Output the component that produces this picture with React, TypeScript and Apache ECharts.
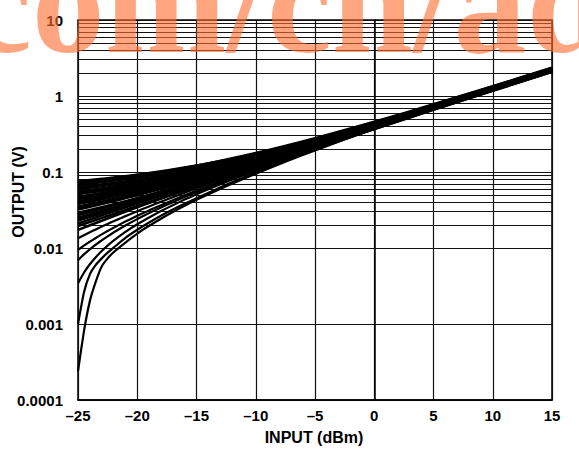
import React, { useEffect, useRef } from "react";
import * as echarts from "echarts";

// x positions (dBm)
const X_BAND = [-25, -20, -15, -10, -5, 0, 5, 10, 15];
const X_LOW = [-25, -24.5, -24, -23.5, -23, -22.5, -22, -21, -20, -19, -18, -17, -16, -15, -12.5, -10, -7.5, -5, -2.5, 0, 5, 10, 15];

// curves in the dense band (OUTPUT V at X_BAND)
const BAND_Y: number[][] = [
  [0.075, 0.0916, 0.1212, 0.1738, 0.2673, 0.4336, 0.7294, 1.2553, 2.1905],
  [0.071, 0.0889, 0.1208, 0.1776, 0.2785, 0.4579, 0.777, 1.3444, 2.3535],
  [0.067, 0.0845, 0.1156, 0.171, 0.2694, 0.4445, 0.7558, 1.3094, 2.2939],
  [0.063, 0.0792, 0.108, 0.1592, 0.2503, 0.4122, 0.7002, 1.2122, 2.1232],
  [0.061, 0.0781, 0.1085, 0.1624, 0.2584, 0.4291, 0.7326, 1.2724, 2.2322],
  [0.059, 0.0769, 0.1088, 0.1656, 0.2665, 0.4459, 0.765, 1.3324, 2.3415],
  [0.055, 0.0721, 0.1025, 0.1564, 0.2524, 0.4231, 0.7266, 1.2664, 2.2262],
  [0.053, 0.0692, 0.098, 0.1492, 0.2403, 0.4022, 0.6902, 1.2022, 2.1132],
  [0.051, 0.0676, 0.0972, 0.1498, 0.2433, 0.4096, 0.7054, 1.2313, 2.1665],
  [0.047, 0.0645, 0.0956, 0.151, 0.2494, 0.4245, 0.7358, 1.2894, 2.2739],
  [0.0455, 0.0621, 0.0917, 0.1443, 0.2378, 0.4041, 0.6999, 1.2258, 2.161],
  [0.044, 0.0602, 0.089, 0.1402, 0.2313, 0.3932, 0.6812, 1.1932, 2.1042],
  [0.041, 0.0589, 0.0908, 0.1476, 0.2485, 0.4279, 0.747, 1.3144, 2.3235],
  [0.0395, 0.057, 0.0881, 0.1435, 0.2419, 0.417, 0.7283, 1.2819, 2.2664],
  [0.038, 0.0551, 0.0855, 0.1394, 0.2354, 0.4061, 0.7096, 1.2494, 2.2092],
  [0.035, 0.0516, 0.0812, 0.1338, 0.2273, 0.3936, 0.6894, 1.2153, 2.1505],
  [0.0335, 0.0506, 0.081, 0.1349, 0.2309, 0.4016, 0.7051, 1.2449, 2.2047],
  [0.032, 0.0495, 0.0806, 0.136, 0.2344, 0.4095, 0.7208, 1.2744, 2.2589],
  [0.029, 0.0452, 0.074, 0.1252, 0.2163, 0.3782, 0.6662, 1.1782, 2.0892],
  [0.028, 0.0446, 0.0742, 0.1268, 0.2203, 0.3866, 0.6824, 1.2083, 2.1435],
  [0.027, 0.0449, 0.0768, 0.1336, 0.2345, 0.4139, 0.733, 1.3004, 2.3095],
  [0.025, 0.0421, 0.0725, 0.1264, 0.2224, 0.3931, 0.6966, 1.2364, 2.1962],
  [0.024, 0.0419, 0.0738, 0.1306, 0.2315, 0.4109, 0.73, 1.2974, 2.3065],
  [0.023, 0.0396, 0.0692, 0.1218, 0.2153, 0.3816, 0.6774, 1.2033, 2.1385],
  [0.021, 0.0385, 0.0696, 0.125, 0.2234, 0.3985, 0.7098, 1.2634, 2.2479],
  [0.0195, 0.0357, 0.0645, 0.1157, 0.2068, 0.3687, 0.6567, 1.1687, 2.0797],
  [0.0173, 0.0344, 0.0648, 0.1187, 0.2147, 0.3854, 0.6889, 1.2287, 2.1885],
];

// curves that fall away at low input (OUTPUT V at X_LOW)
const LOW_Y: number[][] = [
  [0.01343, 0.01473, 0.01611, 0.01756, 0.01911, 0.02075, 0.02248, 0.02626, 0.0305, 0.03526, 0.0406, 0.04661, 0.05332, 0.06084, 0.08397, 0.11482, 0.15596, 0.2108, 0.28396, 0.3815, 0.68504, 1.2248, 2.1846],
  [0.00943, 0.01073, 0.01211, 0.01356, 0.01511, 0.01675, 0.01848, 0.02226, 0.0265, 0.03126, 0.0366, 0.04261, 0.04932, 0.05684, 0.07997, 0.11082, 0.15196, 0.2068, 0.27996, 0.3775, 0.68104, 1.2208, 2.1806],
  [0.00693, 0.00823, 0.00961, 0.01106, 0.01261, 0.01425, 0.01598, 0.01976, 0.024, 0.02876, 0.0341, 0.04011, 0.04682, 0.05434, 0.07747, 0.10832, 0.14946, 0.2043, 0.27746, 0.375, 0.67854, 1.2183, 2.1781],
  [0.00343, 0.00473, 0.00611, 0.00756, 0.00911, 0.01075, 0.01248, 0.01626, 0.0205, 0.02526, 0.0306, 0.03661, 0.04332, 0.05084, 0.07397, 0.10482, 0.14596, 0.2008, 0.27396, 0.3715, 0.67504, 1.2148, 2.1746],
  [0.001, 0.0026, 0.0045, 0.006, 0.0073, 0.0087, 0.0101, 0.0136, 0.0174, 0.0217, 0.0266, 0.0321, 0.0383, 0.0452, 0.068, 0.099, 0.141, 0.196, 0.271, 0.369, 0.672, 1.212, 2.172],
  [0.00024, 0.0008, 0.002, 0.0036, 0.0057, 0.0073, 0.0088, 0.0118, 0.0155, 0.0196, 0.0243, 0.0298, 0.036, 0.043, 0.065, 0.095, 0.137, 0.192, 0.268, 0.366, 0.67, 1.21, 2.17],
];

const X_TICKS = [-25, -20, -15, -10, -5, 0, 5, 10, 15];
const Y_TICK_LABELS = ["0.0001", "0.001", "0.01", "0.1", "1", "10"];
const MINOR_MULTIPLIERS = [2, 3, 4, 5, 6, 7, 8, 9];
const DECADES = [0.0001, 0.001, 0.01, 0.1, 1];

const X_TITLE = "INPUT (dBm)";
const Y_TITLE = "OUTPUT (V)";
const WATERMARK = "com/cn/ad";

const FONT = '"Liberation Sans", Arial, Helvetica, sans-serif';

export default function App() {
  const ref = useRef<HTMLDivElement>(null);
  useEffect(() => {
    if (!ref.current) return;
    document.body.style.margin = "0";
    const chart = echarts.init(ref.current, undefined, { renderer: "svg" });

    const minorLines: { yAxis: number }[] = [];
    DECADES.forEach((d) => MINOR_MULTIPLIERS.forEach((m) => minorLines.push({ yAxis: m * d })));

    const series: any[] = [
      {
        type: "line",
        data: [[-25, 1]],
        showSymbol: false,
        silent: true,
        lineStyle: { width: 0 },
        z: 1,
        markLine: {
          silent: true,
          symbol: ["none", "none"],
          label: { show: false },
          lineStyle: { color: "#111", width: 1.2, type: "solid" },
          data: minorLines,
          z: 1,
        },
      },
    ];
    BAND_Y.forEach((ys) =>
      series.push({
        type: "line",
        showSymbol: false,
        smooth: 0.3,
        silent: true,
        z: 3,
        data: X_BAND.map((x, i) => [x, ys[i]]),
        lineStyle: { color: "#000", width: 2.6 },
      })
    );
    LOW_Y.forEach((ys) =>
      series.push({
        type: "line",
        showSymbol: false,
        smooth: 0.15,
        silent: true,
        z: 3,
        data: X_LOW.map((x, i) => [x, ys[i]]),
        lineStyle: { color: "#000", width: 2.2 },
      })
    );

    chart.setOption({
      animation: false,
      grid: {
        left: 78,
        right: 27,
        top: 20,
        bottom: 53,
        show: true,
        borderColor: "#000",
        borderWidth: 1.5,
      },
      xAxis: {
        type: "value",
        min: -25,
        max: 15,
        interval: 5,
        axisLine: { show: true, lineStyle: { color: "#000", width: 1.5 } },
        axisTick: { show: false },
        splitLine: { show: true, lineStyle: { color: "#111", width: 1.2 } },
        axisLabel: {
          color: "#000",
          fontFamily: FONT,
          fontWeight: "bold",
          fontSize: 15,
          margin: 8,
          showMinLabel: true,
          showMaxLabel: true,
          formatter: (v: number) => {
            const t = X_TICKS.find((k) => Math.abs(k - v) < 1e-6);
            return t === undefined ? "" : String(t).replace("-", "\u2013");
          },
        },
      },
      yAxis: {
        type: "log",
        logBase: 10,
        min: 0.0001,
        max: 10,
        axisLine: { show: true, lineStyle: { color: "#000", width: 1.5 } },
        axisTick: { show: false },
        splitLine: { show: true, lineStyle: { color: "#111", width: 1.2 } },
        axisLabel: {
          color: "#000",
          fontFamily: FONT,
          fontWeight: "bold",
          fontSize: 15,
          margin: 15,
          showMinLabel: true,
          showMaxLabel: true,
          formatter: (v: number) => {
            const e = Math.round(Math.log10(v));
            return Y_TICK_LABELS[e + 4] ?? "";
          },
        },
      },
      graphic: [
        {
          type: "text",
          x: 314,
          y: 437,
          style: {
            text: X_TITLE,
            fill: "#000",
            font: `bold 16px ${FONT}`,
            textAlign: "center",
            textVerticalAlign: "middle",
          },
        },
        {
          type: "text",
          x: 18,
          y: 192,
          rotation: Math.PI / 2,
          style: {
            text: Y_TITLE,
            fill: "#000",
            font: `bold 16px ${FONT}`,
            textAlign: "center",
            textVerticalAlign: "middle",
          },
        },
        {
          type: "text",
          x: -33,
          y: 76,
          z: 100,
          silent: true,
          style: {
            text: WATERMARK,
            fill: "rgba(255, 110, 50, 0.62)",
            font: `bold 146px "Liberation Serif", "Times New Roman", serif`,
            textAlign: "left",
            textVerticalAlign: "bottom",
          },
        },
      ],
      series,
    });
    return () => chart.dispose();
  }, []);
  return <div ref={ref} style={{ width: 579, height: 453 }} />;
}
